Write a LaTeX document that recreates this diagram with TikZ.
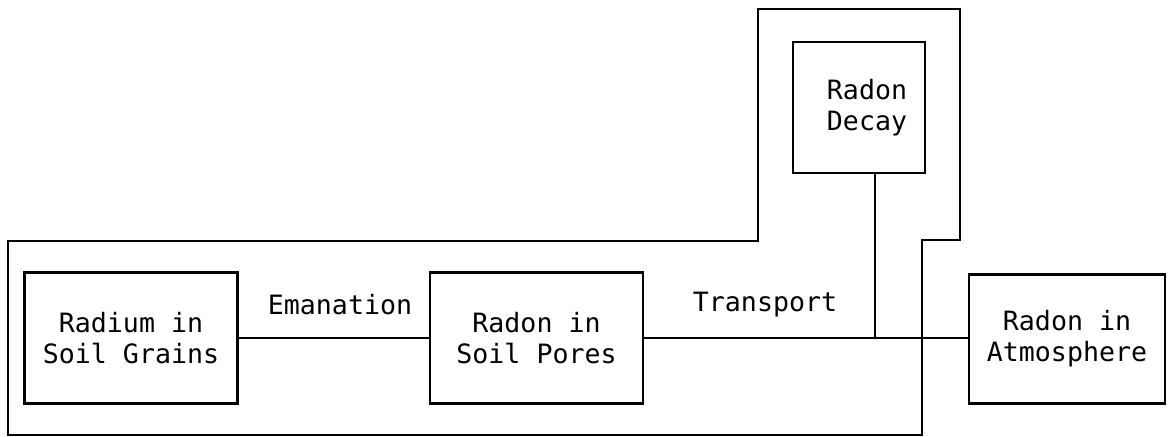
\documentclass[tikz,border=0pt]{standalone}
\usepackage{fontspec}
\newfontfamily\plotfont{DejaVu Sans Mono}
\usetikzlibrary{positioning}

\begin{document}
\begin{tikzpicture}[x=0.5pt,y=-0.5pt,line width=1.2pt,
    font=\plotfont\fontsize{13.3}{15.5}\selectfont,
    pool/.style={draw, align=center, inner sep=0pt},
    flowlabel/.style={inner sep=0pt}]
    \useasboundingbox (0,0) rectangle (1170,437);
    % Coordinates
    \coordinate (A) at (8, 241);
    \coordinate (B) at (758, 241);
    \coordinate (C) at (758, 9);
    \coordinate (D) at (960, 9);
    \coordinate (E) at (960, 240);
    \coordinate (F) at (922, 240);
    \coordinate (G) at (922, 435);
    \coordinate (H) at (8, 435);

    % Boxes
    \node[pool, minimum width=106.5pt, minimum height=65.5pt] (radium) at (131, 338) {Radium in\\Soil Grains};
    \node[pool, minimum width=106.5pt, minimum height=65.5pt] (pores) at (536.5, 338) {Radon in\\Soil Pores};
    \node[pool, minimum width=66pt, minimum height=65.5pt] (decay) at (859, 107.5) {\hspace{8pt}Radon\\\hspace{8pt}Decay};
    \node[pool, minimum width=98pt, minimum height=64.5pt] (atmos) at (1067, 339) {Radon in\\Atmosphere};
    \coordinate (K) at ([xshift=8pt]decay.south);
    \coordinate (J) at (K |- pores.east);

    % Drawing
    \draw (A) -- (B) -- (C) -- (D) -- (E) -- (F) -- (G) -- (H) -- cycle;
    \draw (radium.east) -- (pores.west);
    \draw (pores.east) -- (pores.east -| atmos.west);
    \draw (K) -- (J);
    \node[flowlabel] (eman) at (340, 305) {Emanation};
    \node[flowlabel] (trans) at (765, 305) {Transport};
  \end{tikzpicture}
\end{document}
